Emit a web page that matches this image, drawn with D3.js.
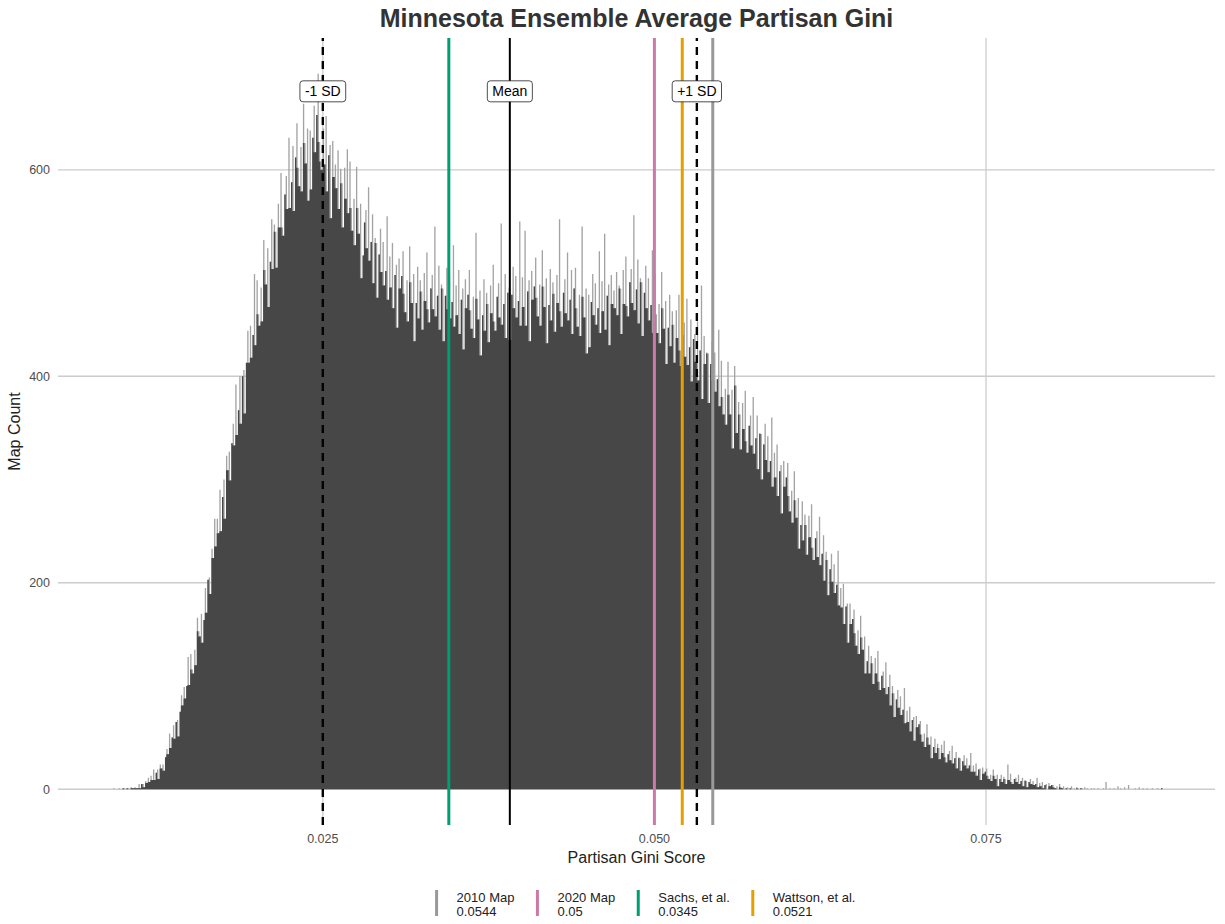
<!DOCTYPE html>
<html>
<head>
<meta charset="utf-8">
<script src="https://cdn.jsdelivr.net/npm/d3@7"></script>
<style>
body { margin: 0; background: #fff; }
text { font-family: "Liberation Sans", Arial, Helvetica, sans-serif; }
</style>
</head>
<body>
<svg id="chart" width="1225" height="924"></svg>
<script>
// histogram bins: start, width and counts (one row = 10 bins = 0.001)
const binStart = 0.0090;
const binWidth = 0.0001;
const binCounts = [
    0,0,1,0,0,0,1,0,0,1,
    1,0,1,1,0,2,1,1,2,1,
    1,5,1,5,5,2,8,6,11,7,
    13,9,19,9,16,19,10,24,20,24,
    18,31,39,34,54,40,50,62,49,65,
    67,51,75,91,81,99,88,100,128,101,
    131,116,112,135,120,166,153,148,170,142,
    164,195,171,203,205,189,233,224,262,235,
    262,248,290,250,283,300,262,323,309,327,
    299,335,354,333,392,343,367,400,354,400,
    406,364,413,444,413,449,418,440,499,430,
    493,460,449,486,453,532,503,489,524,467,
    511,552,504,547,540,505,567,544,597,544,
    536,576,594,562,631,563,588,623,560,612,
    645,602,584,622,579,664,626,606,640,570,
    638,581,631,662,617,653,693,627,608,600,
    640,605,652,579,614,624,553,628,593,605,
    582,619,562,601,587,544,602,572,620,558,
    608,563,541,572,527,603,563,538,567,495,
    517,549,561,524,583,512,530,557,490,534,
    529,476,518,543,501,530,488,502,555,474,
    516,486,529,466,498,508,447,514,485,497,
    521,480,462,493,453,526,491,471,499,434,
    471,506,456,493,482,445,500,473,520,465,
    452,485,498,465,545,458,478,507,445,489,
    485,434,478,505,465,496,456,472,527,448,
    488,459,503,441,474,485,426,494,466,479,
    503,464,446,477,437,539,475,455,483,420,
    459,494,444,481,470,433,488,461,508,453,
    444,477,490,457,548,450,470,499,437,481,
    486,435,479,506,466,497,457,473,550,449,
    496,467,541,449,482,493,434,502,474,487,
    515,476,458,489,449,522,487,467,495,432,
    469,504,454,491,480,443,498,471,552,463,
    448,481,494,461,520,454,474,503,441,485,
    505,466,448,479,439,545,477,457,485,422,
    479,428,472,499,459,490,450,466,521,442,
    492,463,538,445,478,489,430,498,470,483,
    466,501,459,488,485,441,503,470,516,468,
    458,491,504,471,556,464,484,513,451,495,
    491,439,481,507,466,495,454,469,522,442,
    499,460,442,470,432,501,466,446,473,412,
    447,479,429,463,450,413,464,437,479,425,
    410,440,452,419,475,411,428,455,395,436,
    441,414,453,396,425,488,378,439,412,423,
    422,374,412,434,396,423,385,397,445,371,
    415,380,363,388,353,414,382,363,387,330,
    410,391,345,375,363,329,374,349,386,337,
    326,352,362,333,380,325,340,362,310,345,
    344,300,334,354,319,342,307,318,360,293,
    326,302,334,284,308,314,267,318,293,302,
    316,284,269,289,258,308,280,263,282,233,
    256,279,241,266,256,227,265,244,276,234,
    222,243,250,225,264,217,228,246,202,230,
    222,188,213,228,201,218,190,198,231,178,
    195,176,199,160,177,180,142,180,160,165,
    174,151,139,154,131,168,147,135,148,112,
    124,139,112,129,122,102,127,112,134,104,
    96,110,114,98,123,92,99,111,81,100,
    93,70,87,96,79,90,72,77,98,64,
    76,65,80,56,67,70,47,71,60,63,
    66,53,46,54,41,63,50,43,51,30,
    41,49,35,44,40,29,43,35,47,31,
    26,34,37,28,42,25,30,36,20,31,
    30,18,27,33,23,30,20,23,35,17,
    23,17,25,13,19,20,9,21,15,17,
    20,13,10,14,8,19,13,10,14,3,
    10,14,7,12,10,5,24,9,15,7,
    5,10,11,7,14,5,8,11,3,9,
    8,2,7,10,5,8,4,5,11,2,
    6,3,7,1,4,5,0,6,3,4,
    4,2,1,3,0,5,2,1,3,0,
    1,2,0,1,3,0,1,0,2,1,
    0,1,1,0,2,0,1,0,0,1,
    0,1,0,0,1,0,0,0,1,0,
    7,0,0,1,0,0,1,0,0,3,
    0,1,0,0,2,0,0,4,0,0,
    0,0,1,0,0,2,0,0,1,0,
    0,1,0,0,0,1,0,0,0,1,
    0,0,1,0,0,0,0,0,0,0
];

const ensembleMean = 0.0391;
const ensembleSd = 0.0141;
const statLabels = ["-1 SD", "Mean", "+1 SD"];

const refNames = ["2010 Map", "2020 Map", "Sachs, et al.", "Wattson, et al."];
const refValues = [0.0544, 0.05, 0.0345, 0.0521];

const xTicks = [0.025, 0.050, 0.075];
const yTicks = [0, 200, 400, 600];
const labelY = 676;

// styles
const refColors = ["#999999", "#CC79A7", "#009E73", "#E69F00"];
const barFill = "#474747";
const spikeFill = "#a3a3a3";
const gridColor = "#cccccc";

const panel = {left: 58, right: 1215, top: 38, bottom: 825};

let svg = d3.select("#chart");

let bins = binCounts.map((c, i) => {
    return {x0: binStart + i * binWidth, x1: binStart + (i + 1) * binWidth, count: c};
});
let lastIndex = d3.max(bins.map((b, i) => b.count > 0 ? i : 0));
let lastBin = bins[lastIndex];
let xMin = bins[0].x0, xMax = lastBin.x1;
let xPad = (xMax - xMin) * 0.05;
let yMax = d3.max(binCounts);

let x = d3.scaleLinear().domain([xMin - xPad, xMax + xPad]).range([panel.left, panel.right]);
let y = d3.scaleLinear().domain([-yMax * 0.05, yMax * 1.05]).range([panel.bottom, panel.top]);

// grid
let grid = svg.append("g");
grid.selectAll("line.gx").data(xTicks).enter().append("line")
    .attr("x1", d => x(d)).attr("x2", d => x(d))
    .attr("y1", panel.top).attr("y2", panel.bottom)
    .attr("stroke", gridColor).attr("stroke-width", 1.3);
grid.selectAll("line.gy").data(yTicks).enter().append("line")
    .attr("x1", panel.left).attr("x2", panel.right)
    .attr("y1", d => y(d)).attr("y2", d => y(d))
    .attr("stroke", gridColor).attr("stroke-width", 1.3);

// histogram as stepped shapes (avoids seams between the very thin bars).
// the thin bars' lone tips render light, like the hairline bars of the original
let used = bins.slice(0, lastIndex + 1);
function stepPoints(accessor) {
    let pts = used.map((b, i) => [b.x0, accessor(b, i)]);
    pts.push([lastBin.x1, accessor(lastBin, lastIndex)]);
    return pts;
}
let area = d3.area()
    .x(d => x(d[0]))
    .y0(y(0))
    .y1(d => y(d[1]))
    .curve(d3.curveStepAfter);
svg.append("path").datum(stepPoints(b => b.count))
    .attr("d", area)
    .attr("fill", spikeFill);
svg.append("path").datum(stepPoints((b, i) => Math.min(b.count, used[Math.min(i + 1, lastIndex)].count)))
    .attr("d", area)
    .attr("fill", barFill);

// reference map lines
svg.append("g").selectAll("line").data(refValues).enter().append("line")
    .attr("x1", d => x(d)).attr("x2", d => x(d))
    .attr("y1", panel.bottom).attr("y2", panel.top)
    .attr("stroke", (d, i) => refColors[i])
    .attr("stroke-width", 3);

// mean and +/- 1 sd
let stats = [ensembleMean - ensembleSd, ensembleMean, ensembleMean + ensembleSd];
svg.append("g").selectAll("line").data(stats).enter().append("line")
    .attr("x1", d => x(d)).attr("x2", d => x(d))
    .attr("y1", panel.bottom).attr("y2", panel.top)
    .attr("stroke", "#000")
    .attr("stroke-width", (d, i) => i === 1 ? 2 : 2.4)
    .attr("stroke-dasharray", (d, i) => i === 1 ? null : "8,6");

let lab = svg.append("g").selectAll("g").data(stats).enter().append("g")
    .attr("transform", d => `translate(${x(d)},${y(labelY)})`);
lab.append("rect").attr("class", "box");
lab.append("text")
    .attr("text-anchor", "middle")
    .attr("dy", "0.35em")
    .attr("font-size", 14)
    .attr("fill", "#000")
    .text((d, i) => statLabels[i]);
lab.each(function () {
    let g = d3.select(this);
    let w = g.select("text").node().getComputedTextLength();
    g.select("rect")
        .attr("x", -w / 2 - 5).attr("y", -10.5)
        .attr("width", w + 10).attr("height", 21)
        .attr("rx", 3).attr("ry", 3)
        .attr("fill", "#fff").attr("stroke", "#000").attr("stroke-width", 0.7);
});

// axis labels
svg.append("g").selectAll("text").data(xTicks).enter().append("text")
    .attr("x", d => x(d)).attr("y", 843)
    .attr("text-anchor", "middle")
    .attr("font-size", 12.5).attr("fill", "#4d4d4d")
    .text(d3.format(".3f"));
svg.append("g").selectAll("text").data(yTicks).enter().append("text")
    .attr("x", 50).attr("y", d => y(d)).attr("dy", "0.35em")
    .attr("text-anchor", "end")
    .attr("font-size", 12.5).attr("fill", "#4d4d4d")
    .text(d => d);

svg.append("text")
    .attr("x", (panel.left + panel.right) / 2).attr("y", 863)
    .attr("text-anchor", "middle").attr("font-size", 16).attr("fill", "#222")
    .text("Partisan Gini Score");
svg.append("text")
    .attr("transform", `translate(20,${(panel.top + panel.bottom) / 2}) rotate(-90)`)
    .attr("text-anchor", "middle").attr("font-size", 16).attr("fill", "#222")
    .text("Map Count");

svg.append("text")
    .attr("x", (panel.left + panel.right) / 2).attr("y", 27)
    .attr("text-anchor", "middle").attr("font-size", 25).attr("font-weight", "bold")
    .attr("fill", "#333")
    .text("Minnesota Ensemble Average Partisan Gini");

// legend
let legend = svg.append("g");
let items = legend.selectAll("g").data(refNames).enter().append("g");
items.append("line")
    .attr("x1", 0).attr("x2", 0).attr("y1", 890).attr("y2", 916)
    .attr("stroke", (d, i) => refColors[i]).attr("stroke-width", 3);
let lt = items.append("text").attr("x", 20).attr("font-size", 13).attr("fill", "#222");
lt.append("tspan").attr("x", 20).attr("y", 902).text(d => d);
lt.append("tspan").attr("x", 20).attr("y", 916).text((d, i) => String(refValues[i]));
let offset = 0;
let offsets = [];
items.each(function () {
    offsets.push(offset);
    offset += 20 + this.querySelector("text").getBBox().width + 23;
});
let legendWidth = offset - 23;
let legendStart = 646 - legendWidth / 2;
items.attr("transform", (d, i) => `translate(${legendStart + offsets[i]},0)`);
</script>
</body>
</html>
